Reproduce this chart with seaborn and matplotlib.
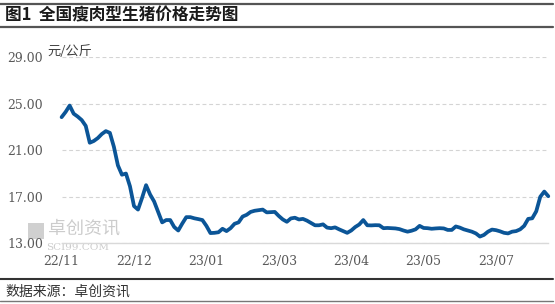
import matplotlib
matplotlib.use("Agg")
import matplotlib.pyplot as plt
from matplotlib.lines import Line2D
from matplotlib.patches import Rectangle
import numpy as np
import pandas as pd
import seaborn as sns

# ---------------- data ----------------
title = "图1  全国瘦肉型生猪价格走势图"
unit_label = "元/公斤"
source_text = "数据来源：卓创资讯"
x_tick_labels = ["22/11", "22/12", "23/01", "23/03", "23/04", "23/05", "23/07"]
points_per_label = 18
y_ticks = [13, 17, 21, 25, 29]
prices = [
    23.85, 24.30, 24.85, 24.15, 23.90, 23.60, 23.10, 21.65, 21.80, 22.05,
    22.40, 22.65, 22.50, 21.30, 19.70, 18.90, 19.00, 17.90, 16.20, 15.90,
    16.90, 18.00, 17.20, 16.60, 15.70, 14.80, 15.00, 15.00, 14.40, 14.10,
    14.70, 15.25, 15.25, 15.15, 15.08, 15.00, 14.50, 13.88, 13.90, 13.95,
    14.25, 14.05, 14.30, 14.68, 14.80, 15.30, 15.45, 15.70, 15.80, 15.85,
    15.90, 15.66, 15.68, 15.70, 15.35, 15.05, 14.85, 15.14, 15.20, 15.05,
    15.10, 14.95, 14.75, 14.55, 14.55, 14.63, 14.35, 14.30, 14.37, 14.20,
    14.05, 13.90, 14.10, 14.40, 14.62, 15.00, 14.55, 14.54, 14.56, 14.55,
    14.30, 14.32, 14.30, 14.28, 14.22, 14.10, 14.00, 14.08, 14.20, 14.50,
    14.32, 14.30, 14.25, 14.28, 14.30, 14.28, 14.15, 14.15, 14.45, 14.35,
    14.20, 14.10, 14.00, 13.85, 13.58, 13.72, 14.00, 14.18, 14.13, 14.03,
    13.90, 13.85, 14.00, 14.05, 14.20, 14.50, 15.10, 15.15, 15.75, 17.00,
    17.45, 17.05,
]

# ---------------- style ----------------
sns.set_style("white")
plt.rcParams['font.family'] = ['Noto Sans CJK SC', 'DejaVu Sans']
plt.rcParams['axes.unicode_minus'] = False

W, H = 555, 304
fig = plt.figure(figsize=(W / 100, H / 100), dpi=100)
fig.patch.set_facecolor("white")

x0, x1 = 61.6, 548.3
ytop, ybot = 57.3, 243.3
ax = fig.add_axes([x0 / W, 1 - ybot / H, (x1 - x0) / W, (ybot - ytop) / H])
ax.patch.set_visible(False)

df = pd.DataFrame({"idx": np.arange(len(prices)), "price": prices})
sns.lineplot(data=df, x="idx", y="price", ax=ax, color="#0b5597",
             linewidth=2.7, solid_joinstyle="round", solid_capstyle="round")
for ln in ax.lines:
    ln.set_clip_on(False)
    ln.set_zorder(5)

ax.set_xlim(0, len(prices) - 1)
ax.set_ylim(y_ticks[0], y_ticks[-1])
ax.set_xlabel("")
ax.set_ylabel("")

# grid lines
ax.set_yticks(y_ticks)
ax.set_yticklabels([f"{v:.2f}" for v in y_ticks])
ax.yaxis.grid(True, linestyle=(0, (3.5, 2.5)), color="#d4d4d4", linewidth=0.8)
ax.set_axisbelow(True)
ax.xaxis.grid(False)

tick_pos = [i * points_per_label for i in range(len(x_tick_labels))]
ax.set_xticks(tick_pos)
ax.set_xticklabels(x_tick_labels)

for side in ["top", "right", "left"]:
    ax.spines[side].set_visible(False)
ax.spines["bottom"].set_color("#d9d9d9")
ax.spines["bottom"].set_linewidth(1.0)

ax.tick_params(axis="y", length=0, pad=13.5, labelsize=9, labelcolor="#595959")
ax.tick_params(axis="x", length=3.5, width=0.8, color="#d9d9d9", pad=5,
               labelsize=9, labelcolor="#595959", direction="out")
for lab in ax.get_yticklabels() + ax.get_xticklabels():
    lab.set_family(["DejaVu Serif"])

# unit label
fig.text(47 / W, 1 - 51.5 / H, unit_label, fontsize=9.5, color="#404040",
         ha="left", va="center")

# title and frame lines
fig.text(5 / W, 1 - 15.5 / H, title, fontsize=12, fontweight="bold",
         color="#1a1a1a", ha="left", va="center")
fig.add_artist(Line2D([0, 553 / W], [1 - 3.8 / H] * 2, color="#555555", lw=1.6))
fig.add_artist(Line2D([0, 553 / W], [1 - 26.5 / H] * 2, color="#555555", lw=1.6))
fig.add_artist(Line2D([0, 553 / W], [1 - 279.3 / H] * 2, color="#333333", lw=1.5))
fig.add_artist(Line2D([0, 553 / W], [1 - 300.7 / H] * 2, color="#777777", lw=1.0))

# source
fig.text(5 / W, 1 - 291.8 / H, source_text, fontsize=10, color="#333333",
         ha="left", va="center")

# watermark
fig.add_artist(Rectangle((28 / W, 1 - 239 / H), 16 / W, 16 / H,
                         facecolor="#d0d0d0", edgecolor="none", zorder=-2))
fig.text(48 / W, 1 - 229 / H, "卓创资讯", fontsize=13, color="#cccccc",
         ha="left", va="center", zorder=-1)
fig.text(46 / W, 1 - 247.5 / H, "SCI99.COM", fontsize=7.5, color="#cccccc",
         ha="left", va="center", family=["DejaVu Serif"], zorder=-1)

fig.savefig("out.png", dpi=100, facecolor="white")
